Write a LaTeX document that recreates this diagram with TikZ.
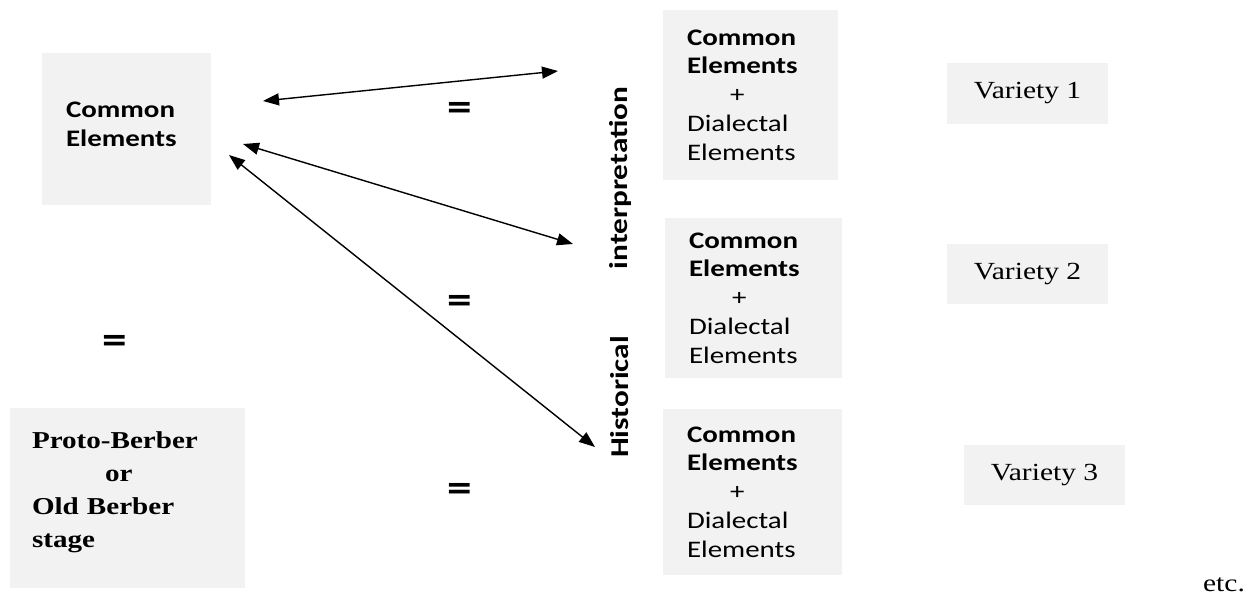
\documentclass[tikz,border=0pt]{standalone}
\usepackage{fontspec}
\usepackage{xcolor}
\usetikzlibrary{arrows.meta,positioning}
\newfontfamily\calib[FakeStretch=1.22]{Carlito}
\newfontfamily\tnr[FakeStretch=1.2]{Liberation Serif}
\definecolor{boxgray}{HTML}{F2F2F2}

\begin{document}
\begin{tikzpicture}[x=0.02cm,y=-0.02cm,
  greybox/.style={fill=boxgray,draw=none,inner ysep=0pt,align=left},
  sansbox/.style={greybox,inner xsep=0.48cm,font=\calib\fontsize{13.5}{16.4}\selectfont},
  varbox/.style={fill=boxgray,draw=none,minimum width=3.22cm,minimum height=1.22cm,
    font=\tnr\fontsize{14}{16}\selectfont},
  side/.style={rotate=90,font=\calib\bfseries\fontsize{14.6}{17}\selectfont},
  eq/.style={font=\calib\bfseries\fontsize{23}{25}\selectfont},
  dbl/.style={{Triangle[length=0.32cm,width=0.24cm]}-{Triangle[length=0.32cm,width=0.24cm]},line width=0.8pt}
  ]
\useasboundingbox (0,0) rectangle (1252,598);

% Left column
\node[greybox,minimum width=3.38cm,minimum height=3.04cm] (ce) at (126.5,129) {};
\node[align=left,inner sep=0pt,text width=2.42cm,font=\calib\bfseries\fontsize{13.5}{16.4}\selectfont]
  (cetext) at (126.5,124) {Common\\Elements};
\node[eq] (eqL) at (115,344) {=};
\node[greybox,minimum width=4.7cm,minimum height=3.6cm] (proto) at (127.5,498) {};
\node[align=left,inner sep=0pt,text width=3.82cm,font=\tnr\bfseries\fontsize{13.8}{18.7}\selectfont]
  (prototext) at (127.5,492) {Proto-Berber\\\hspace*{1.46cm}or\\Old Berber\\stage};

% Middle column: common + dialectal
\node[sansbox,minimum width=3.5cm,minimum height=3.4cm,text width=2.54cm] (mix1) at (750.5,95)
  {\textbf{Common}\\\textbf{Elements}\\\hspace*{0.86cm}+\\Dialectal\\Elements};
\node[sansbox,minimum width=3.54cm,minimum height=3.22cm,text width=2.58cm] (mix2) at (753.5,298)
  {\textbf{Common}\\\textbf{Elements}\\\hspace*{0.86cm}+\\Dialectal\\Elements};
\node[sansbox,minimum width=3.58cm,minimum height=3.34cm,text width=2.62cm] (mix3) at (752.5,492)
  {\textbf{Common}\\\textbf{Elements}\\\hspace*{0.86cm}+\\Dialectal\\Elements};

% Vertical labels
\node[side] (interp) at (620,178) {interpretation};
\node[side] (hist) at (620,397) {Historical};

% Equal signs
\node[eq] (eq1) at (460,111) {=};
\node[eq] (eq2) at (460,304) {=};
\node[eq] (eq3) at (460,492) {=};

% Varieties
\node[varbox] (var1) at (1027.5,93.5) {Variety 1};
\node[varbox] (var2) at (1027.5,274) {Variety 2};
\node[varbox] (var3) at (1044.5,475) {Variety 3};
\node[font=\tnr\fontsize{14}{16}\selectfont] (etc) at (1224,585) {etc.};

% Arrow ends
\coordinate (a1l) at (263,101);
\coordinate (a1r) at (558,71);
\coordinate (a2l) at (243,144);
\coordinate (a2r) at (573,244);
\coordinate (a3l) at (229,155);
\coordinate (a3r) at (595,447);

% Arrows
\draw[dbl] (a1l) -- (a1r);
\draw[dbl] (a2l) -- (a2r);
\draw[dbl] (a3l) -- (a3r);

\end{tikzpicture}
\end{document}
